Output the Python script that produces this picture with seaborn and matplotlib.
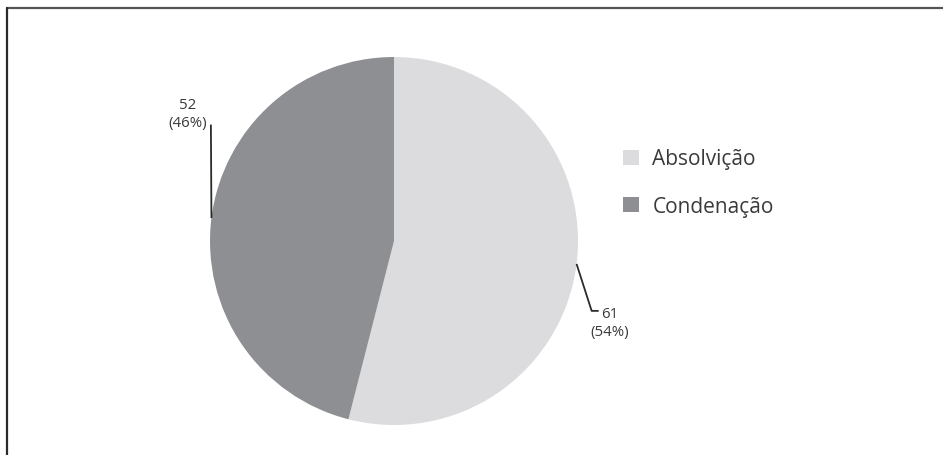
import numpy as np
import matplotlib
matplotlib.use("Agg")
import matplotlib.pyplot as plt
import matplotlib.patches as mpatches
from matplotlib.lines import Line2D
import seaborn as sns

categories = ["Absolvição", "Condenação"]
values = [61, 52]
percent_labels = ["54%", "46%"]
colors = ["#dcdcde", "#8e8f93"]

sns.set_theme(style="white")
plt.rcParams["font.family"] = ["Open Sans", "DejaVu Sans"]
text_color = "#3a3a3a"

W, H = 943, 456
fig = plt.figure(figsize=(W / 100, H / 100), dpi=100)
fig.patch.set_facecolor("white")

cx, cy, r = 394, 242, 184
ax = fig.add_axes([(cx - r) / W, (H - cy - r) / H, 2 * r / W, 2 * r / H])
wedges, _ = ax.pie(values, colors=colors, startangle=90, counterclock=False,
                   radius=1, wedgeprops=dict(linewidth=0))
ax.set_xlim(-1, 1)
ax.set_ylim(-1, 1)
ax.set_aspect("equal")
ax.axis("off")

# labels with leader lines
label_texts = [f"{v}\n({p})" for v, p in zip(values, percent_labels)]
for w, txt in zip(wedges, label_texts):
    mid = np.deg2rad((w.theta1 + w.theta2) / 2)
    ex, ey = np.cos(mid), np.sin(mid)
    if ex > 0:
        bx, by = ex + 0.082, ey - 0.255
        hx = bx + 0.038
        ax.plot([ex, bx, hx], [ey, by, by], color="#2b2b2b", lw=1.3,
                clip_on=False, solid_capstyle="butt")
        tx, ty = hx + 0.058, by - 0.065
    else:
        top = ey + 0.508
        ax.plot([ex, ex - 0.003], [ey, top], color="#2b2b2b", lw=1.3,
                clip_on=False, solid_capstyle="butt")
        tx, ty = ex - 0.13, top + 0.06
    ax.text(tx, ty, txt, ha="center", va="center", fontsize=10.8,
            color=text_color, linespacing=1.3, clip_on=False)

handles = [mpatches.Patch(facecolor=c, edgecolor="none", label=l)
           for c, l in zip(colors, categories)]
fig.legend(handles=handles, loc="center left",
           bbox_to_anchor=(623 / W, 1 - 183.5 / H), frameon=False,
           fontsize=15, handlelength=0.76, handleheight=0.76,
           handletextpad=0.65, labelspacing=1.25, borderpad=0,
           borderaxespad=0, labelcolor=text_color)

# frame lines (top and left)
fig.add_artist(Line2D([6.5 / W, 1], [1 - 8.5 / H, 1 - 8.5 / H],
                      transform=fig.transFigure, color="#555555", lw=1.6))
fig.add_artist(Line2D([6.5 / W, 6.5 / W], [0, 1 - 8.5 / H],
                      transform=fig.transFigure, color="#2b2b2b", lw=1.6))

fig.savefig("out.png", dpi=100, facecolor="white")
